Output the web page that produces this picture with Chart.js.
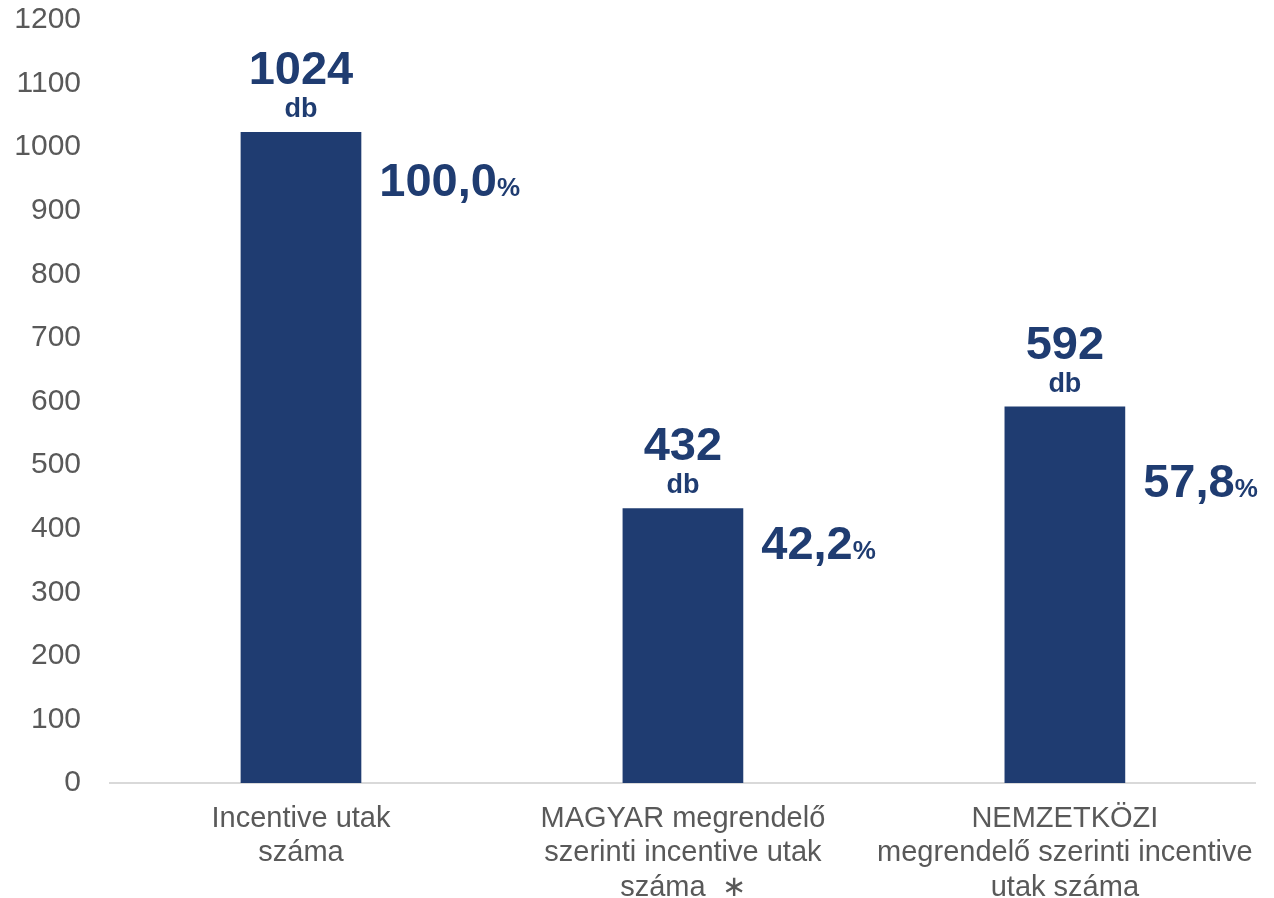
<!DOCTYPE html>
<html lang="hu">
<head>
<meta charset="utf-8">
<title>Incentive utak száma</title>
<script src="https://cdn.jsdelivr.net/npm/chart.js@4/dist/chart.umd.min.js"></script>
<style>
  html, body { margin: 0; padding: 0; background: #fff; }
  #wrap { width: 1274px; height: 898px; position: relative; }
</style>
</head>
<body>
<div id="wrap"><canvas id="chart"></canvas></div>
<script>
const categories = [
  ["Incentive utak", "száma"],
  ["MAGYAR megrendelő", "szerinti incentive utak", "száma  \u2217"],
  ["NEMZETKÖZI", "megrendelő szerinti incentive", "utak száma"]
];
const counts = [1024, 432, 592];
const shares = [100.0, 42.2, 57.8];
const unit = "db";
const yTicks = [0, 100, 200, 300, 400, 500, 600, 700, 800, 900, 1000, 1100, 1200];

const navy = "#1f3c71";
const grey = "#595959";
const family = "Arial, 'Liberation Sans', sans-serif";

// count + "db" above each bar, share with small % to the right
const barLabels = {
  id: "barLabels",
  afterDatasetsDraw(chart, args, opts) {
    const ctx = chart.ctx;
    const bars = chart.getDatasetMeta(0).data;
    ctx.save();
    ctx.fillStyle = navy;
    ctx.textBaseline = "alphabetic";
    bars.forEach((bar, i) => {
      const top = bar.y;
      ctx.textAlign = "center";
      ctx.font = "bold 27px " + family;
      ctx.fillText(unit, bar.x, top - opts.unitGap);
      ctx.font = "bold 47px " + family;
      ctx.fillText(String(counts[i]), bar.x, top - opts.unitGap - 33);

      const txt = shares[i].toFixed(1).replace(".", ",");
      const x0 = bar.x + bar.width / 2 + opts.shareGap;
      const y0 = top + opts.shareDrop[i];
      ctx.textAlign = "left";
      ctx.font = "bold 47px " + family;
      ctx.fillText(txt, x0, y0);
      const w = ctx.measureText(txt).width;
      ctx.font = "bold 26px " + family;
      ctx.fillText("%", x0 + w, y0);
    });
    ctx.restore();
  }
};

new Chart(document.getElementById("chart"), {
  type: "bar",
  data: {
    labels: categories,
    datasets: [{
      data: counts,
      backgroundColor: navy,
      borderWidth: 0,
      barPercentage: 1,
      categoryPercentage: 0.316
    }]
  },
  options: {
    responsive: true,
    maintainAspectRatio: false,
    animation: false,
    layout: { padding: { top: 20, right: 14, left: 0, bottom: 0 } },
    plugins: {
      legend: { display: false },
      tooltip: { enabled: false },
      barLabels: { unitGap: 15, shareGap: 18, shareDrop: [64, 51, 90] }
    },
    scales: {
      x: {
        grid: { display: false, drawTicks: false },
        border: { display: true, color: "#d9d9d9", width: 2 },
        ticks: {
          color: grey,
          font: { family, size: 29, lineHeight: 1.18 },
          padding: 19,
          maxRotation: 0,
          autoSkip: false
        },
        afterFit(scale) { scale.height = 115; }
      },
      y: {
        min: 0,
        max: 1200,
        afterBuildTicks(scale) { scale.ticks = yTicks.map(v => ({ value: v })); },
        grid: { display: false, drawTicks: false },
        border: { display: false },
        ticks: {
          color: grey,
          font: { family, size: 30 },
          padding: 29,
          callback: v => String(v)
        },
        afterFit(scale) {
          scale.width = 110;
          scale.paddingTop = 0;
          scale.paddingBottom = 0;
        }
      }
    }
  },
  plugins: [barLabels]
});
</script>
</body>
</html>
